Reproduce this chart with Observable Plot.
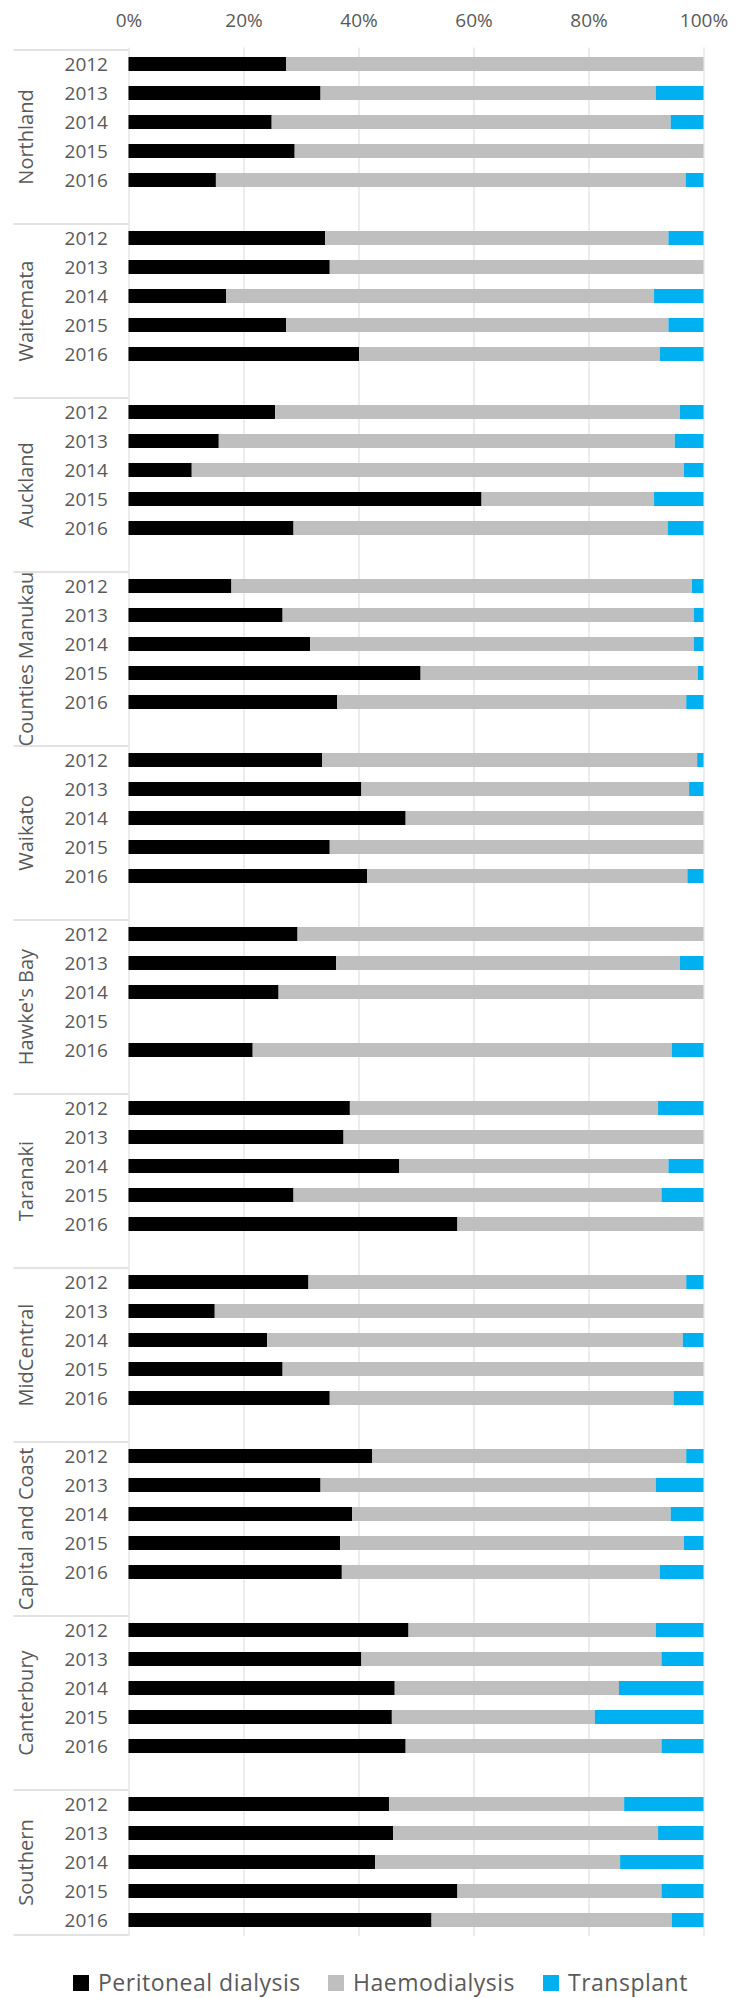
<!DOCTYPE html>
<html>
<head>
<meta charset="utf-8">
<script src="https://cdn.jsdelivr.net/npm/d3@7"></script>
<script src="https://cdn.jsdelivr.net/npm/@observablehq/plot@0.6"></script>
<style>
  html, body { margin: 0; padding: 0; background: #fff; }
  #chart { width: 738px; }
  #chart svg { display: block; }
  #legend { position: relative; width: 738px; height: 48px;
    font-family: "Open Sans", sans-serif; font-size: 23px; line-height: 23px; letter-spacing: 0.5px; color: #595959; white-space: nowrap; }
  .item { position: absolute; top: 21px; display: flex; align-items: center; }
  .sw { width: 16px; height: 16px; margin-right: 9px; flex: none; }
</style>
</head>
<body>
<div id="chart"></div>
<div id="legend"></div>
<script>
const regions = ["Northland", "Waitemata", "Auckland", "Counties Manukau", "Waikato", "Hawke's Bay",
  "Taranaki", "MidCentral", "Capital and Coast", "Canterbury", "Southern"];
const years = ["2012", "2013", "2014", "2015", "2016"];

// percentages per region (rows) and year (columns); null = no data
const peritoneal = [
  [27.4, 33.4, 24.9, 28.9, 15.2],
  [34.2, 35.0, 17.0, 27.4, 40.1],
  [25.5, 15.7, 11.0, 61.4, 28.7],
  [17.9, 26.8, 31.6, 50.8, 36.3],
  [33.7, 40.5, 48.2, 35.0, 41.5],
  [29.4, 36.1, 26.1, null, 21.6],
  [38.5, 37.4, 47.1, 28.7, 57.2],
  [31.3, 15.0, 24.1, 26.8, 35.0],
  [42.4, 33.4, 38.9, 36.8, 37.1],
  [48.7, 40.5, 46.3, 45.8, 48.2],
  [45.3, 46.0, 42.9, 57.2, 52.7]
];
const haemodialysis = [
  [72.6, 58.3, 69.4, 71.1, 81.7],
  [59.7, 65.0, 74.4, 66.5, 52.3],
  [70.4, 79.3, 85.6, 30.0, 65.1],
  [80.1, 71.5, 66.7, 48.2, 60.7],
  [65.2, 57.0, 51.8, 65.0, 55.7],
  [70.6, 59.8, 73.9, null, 72.9],
  [53.6, 62.6, 46.8, 64.0, 42.8],
  [65.7, 85.0, 72.3, 73.2, 59.8],
  [54.6, 58.3, 55.4, 59.8, 55.3],
  [43.0, 52.2, 39.0, 35.3, 44.5],
  [40.9, 46.1, 42.6, 35.5, 41.8]
];
const transplant = [
  [0, 8.3, 5.7, 0, 3.1],
  [6.1, 0, 8.6, 6.1, 7.6],
  [4.1, 5.0, 3.4, 8.6, 6.2],
  [2.0, 1.7, 1.7, 1.0, 3.0],
  [1.1, 2.5, 0, 0, 2.8],
  [0, 4.1, 0, null, 5.5],
  [7.9, 0, 6.1, 7.3, 0],
  [3.0, 0, 3.6, 0, 5.2],
  [3.0, 8.3, 5.7, 3.4, 7.6],
  [8.3, 7.3, 14.7, 18.9, 7.3],
  [13.8, 7.9, 14.5, 7.3, 5.5]
];
const seriesNames = ["Peritoneal dialysis", "Haemodialysis", "Transplant"];
const seriesColors = ["#000000", "#bfbfbf", "#00b0f0"];
const xTicks = [0, 20, 40, 60, 80, 100];

// category keys: region|year, with a blank slot after each region except the last
const keys = [];
regions.forEach((r, i) => {
  years.forEach(y => keys.push(r + "|" + y));
  if (i < regions.length - 1) keys.push(r + "|");
});

const seriesArrays = [peritoneal, haemodialysis, transplant];
const rows = [];
regions.forEach((r, i) => years.forEach((y, j) => {
  seriesArrays.forEach((arr, k) => {
    const v = arr[i][j];
    if (v != null && v > 0) rows.push({key: r + "|" + y, series: seriesNames[k], value: v});
  });
}));

const W = 738, H = 1950, mt = 47.5, mb = 14, ml = 128.5, mr = 34.5;
const step = (H - mt - mb) / keys.length;

const groupTops = regions.map(r => r + "|2012");
const lastKey = keys[keys.length - 1];
const sepLeft = -20; // separator lines extend into the label area (x units)

const chart = Plot.plot({
  width: W, height: H,
  marginTop: mt, marginBottom: mb, marginLeft: ml, marginRight: mr,
  style: {fontFamily: "'Open Sans', sans-serif", fontSize: "19px", color: "#595959", background: "#fff"},
  x: {domain: [0, 100]},
  y: {domain: keys, paddingInner: 0.52, paddingOuter: 0.26},
  color: {domain: seriesNames, range: seriesColors},
  marks: [
    Plot.gridX(xTicks, {stroke: "#d9d9d9", strokeOpacity: 1, strokeWidth: 1}),
    Plot.ruleY(groupTops, {y: d => d, dy: -step / 2, x1: sepLeft, x2: 0, stroke: "#d9d9d9", strokeWidth: 1.5}),
    Plot.ruleY([lastKey], {y: d => d, dy: step / 2, x1: sepLeft, x2: 0, stroke: "#d9d9d9", strokeWidth: 1.5}),
    Plot.barX(rows, {x: "value", y: "key", fill: "series", order: seriesNames}),
    Plot.axisX(xTicks, {anchor: "top", tickSize: 0, tickPadding: 21, tickFormat: d => d + "%", fill: "#595959", fontSize: 19, label: null}),
    Plot.axisY({tickSize: 0, tickPadding: 21, tickFormat: k => k.split("|")[1], fill: "#595959", fontSize: 19, label: null}),
    Plot.text(regions.slice(0, -1), {y: r => r + "|2014", dy: step / 2, text: d => d, rotate: -90,
      frameAnchor: "left", dx: -102, fontSize: 20, fill: "#595959", lineAnchor: "middle", textAnchor: "middle"}),
    Plot.text(regions.slice(-1), {y: r => r + "|2014", text: d => d, rotate: -90,
      frameAnchor: "left", dx: -102, fontSize: 20, fill: "#595959", lineAnchor: "middle", textAnchor: "middle"})
  ]
});
document.getElementById("chart").append(chart);

// legend item left edges (px)
const legendLeft = [73, 328, 543];
const legend = document.getElementById("legend");
seriesNames.forEach((name, i) => {
  const item = document.createElement("div");
  item.className = "item";
  item.style.left = legendLeft[i] + "px";
  const sw = document.createElement("span");
  sw.className = "sw";
  sw.style.background = seriesColors[i];
  const t = document.createElement("span");
  t.textContent = name;
  item.append(sw, t);
  legend.append(item);
});
</script>
</body>
</html>
